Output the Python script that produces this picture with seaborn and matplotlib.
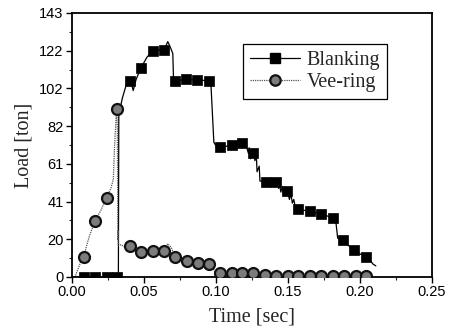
import seaborn as sns
import matplotlib.pyplot as plt
from matplotlib.lines import Line2D
from matplotlib.ticker import FixedLocator, MultipleLocator

# Blanking - traced curve
blank_t = [0.000, 0.0315, 0.0322, 0.0325, 0.035, 0.038, 0.040, 0.0415, 0.0425, 0.0445,
           0.0477, 0.052, 0.056, 0.060, 0.064, 0.0665, 0.068, 0.070, 0.0705, 0.0715,
           0.079, 0.087, 0.0955, 0.0965, 0.0985, 0.100, 0.103, 0.111, 0.118, 0.121,
           0.1225, 0.123, 0.124, 0.125, 0.126, 0.127, 0.128, 0.1285, 0.130, 0.1305,
           0.134, 0.142, 0.1435, 0.144, 0.145, 0.146, 0.147, 0.1485, 0.1495, 0.151,
           0.152, 0.153, 0.154, 0.155, 0.157, 0.165, 0.173, 0.181, 0.183, 0.1845,
           0.188, 0.192, 0.196, 0.200, 0.204, 0.207, 0.209, 0.211]
blank_load = [0, 0, 0, 88, 97, 105, 106, 104, 101, 107,
              113, 119, 122.6, 123, 123, 127.5, 125, 121, 107, 106.3,
              107, 106.7, 106.3, 104, 73, 71, 70.3, 71.3, 72.4, 71,
              67, 70, 64, 69, 67.3, 63, 66, 57, 60, 52,
              51.3, 51.3, 48, 51, 46, 49, 44, 47.5, 46.6, 42,
              45, 40, 42, 38, 36.7, 35.6, 34.1, 32.1, 31.5, 21,
              20, 17, 14.6, 12.5, 11, 9, 7, 6]

# Blanking - markers
blank_mt = [0.008, 0.016, 0.024, 0.031, 0.040, 0.048, 0.056, 0.064, 0.0715, 0.079,
            0.087, 0.095, 0.103, 0.111, 0.118, 0.126, 0.1345, 0.142, 0.1495, 0.157,
            0.165, 0.173, 0.181, 0.188, 0.196, 0.204]
blank_ml = [0, 0, 0, 0, 106, 113, 122.6, 123, 106.3, 107,
            106.7, 106.3, 70.3, 71.3, 72.4, 67.3, 51.3, 51.3, 46.6, 36.7,
            35.6, 34.1, 32.1, 20, 14.6, 11]

# Vee-ring - traced curve
vee_t = [0.000, 0.002, 0.004, 0.006, 0.008, 0.012, 0.016, 0.020, 0.024, 0.027,
         0.0287, 0.0295, 0.0305, 0.031, 0.0315, 0.0318, 0.032, 0.0322, 0.034, 0.037,
         0.040, 0.044, 0.048, 0.056, 0.064, 0.0665, 0.069, 0.0705, 0.0715, 0.0796,
         0.0873, 0.095, 0.097, 0.099, 0.103, 0.111, 0.118, 0.126, 0.134, 0.142,
         0.150, 0.165, 0.181, 0.197, 0.205]
vee_load = [0, 0, 4, 8, 11, 22, 30.5, 36, 43, 48,
            53, 70, 85, 91, 80, 20, 25, 17, 17.5, 16,
            17, 14.5, 13.7, 14.2, 14.2, 18, 16, 13, 10.7, 8.7,
            7.4, 7, 6, 3, 2.3, 2, 2.3, 2, 0.9, 0.6,
            0.5, 0.4, 0.4, 0.4, 0.3]

# Vee-ring - markers
vee_mt = [0.008, 0.016, 0.024, 0.031, 0.040, 0.048, 0.056, 0.064, 0.0715, 0.0796,
          0.0873, 0.095, 0.103, 0.111, 0.118, 0.126, 0.134, 0.142, 0.150, 0.157,
          0.165, 0.173, 0.181, 0.189, 0.197, 0.204]
vee_ml = [11, 30.5, 43, 91, 17, 13.7, 14.2, 14.2, 10.7, 8.7,
          7.4, 7, 2.3, 2, 2.3, 2, 0.9, 0.6, 0.5, 0.4,
          0.4, 0.4, 0.4, 0.4, 0.4, 0.4]

y_ticks = [0, 20.43, 40.86, 61.29, 81.71, 102.14, 122.57, 143]
y_labels = ['0', '20', '41', '61', '82', '102', '122', '143']

sns.set_style("ticks")
plt.rcParams['font.family'] = ['Liberation Sans', 'DejaVu Sans']

fig = plt.figure(figsize=(4.54, 3.33), dpi=100)
ax = fig.add_axes([0.1586, 0.1682, 0.7930, 0.7928])

sq_color = '#000000'
ci_face = '#7c7c7c'
ci_edge = '#111111'

sns.lineplot(x=blank_t, y=blank_load, ax=ax, color='black', linewidth=0.9,
             sort=False, estimator=None)
sns.lineplot(x=vee_t, y=vee_load, ax=ax, color='#555555', linewidth=0.9,
             linestyle=(0, (1, 0.8)), sort=False, estimator=None)
sns.scatterplot(x=blank_mt, y=blank_ml, ax=ax, marker='s', s=58, color=sq_color,
                edgecolor=sq_color, linewidth=0.5, zorder=3)
sns.scatterplot(x=vee_mt, y=vee_ml, ax=ax, marker='o', s=62, color=ci_face,
                edgecolor=ci_edge, linewidth=1.6, zorder=3)

ax.set_xlim(0, 0.25)
ax.set_ylim(0, 143)
ax.set_xticks([0, 0.05, 0.10, 0.15, 0.20, 0.25])
ax.set_xticklabels(['0.00', '0.05', '0.10', '0.15', '0.20', '0.25'])
ax.xaxis.set_minor_locator(MultipleLocator(0.025))
ax.set_yticks(y_ticks)
ax.set_yticklabels(y_labels)
ax.yaxis.set_minor_locator(FixedLocator([(y_ticks[i] + y_ticks[i + 1]) / 2 for i in range(7)]))

ax.tick_params(which='major', direction='out', length=4, width=1, labelsize=10.5,
               colors='black', pad=2)
ax.tick_params(which='minor', direction='out', length=2.5, width=0.8)
for sp in ax.spines.values():
    sp.set_visible(True)
    sp.set_linewidth(1.3)
    sp.set_color('black')

ax.set_xlabel('Time [sec]', family=['Liberation Serif'], fontsize=14.5, labelpad=6)
ax.set_ylabel('Load [ton]', family=['Liberation Serif'], fontsize=14.5, labelpad=4)

handles = [
    Line2D([], [], color='black', linewidth=0.9, marker='s', markersize=7.5,
           markerfacecolor=sq_color, markeredgecolor=sq_color),
    Line2D([], [], color='#555555', linewidth=0.9, linestyle=(0, (1, 0.8)), marker='o',
           markersize=7.5, markerfacecolor=ci_face, markeredgecolor=ci_edge, markeredgewidth=1.6),
]
leg = ax.legend(handles, ['Blanking', 'Vee-ring'], loc='upper left',
                bbox_to_anchor=(0.475, 0.883), borderaxespad=0, frameon=True,
                fancybox=False, edgecolor='black', framealpha=1,
                prop={'family': 'Liberation Serif', 'size': 14.5},
                handlelength=2.5, handletextpad=0.3, labelspacing=0.15,
                borderpad=0.35)
leg.get_frame().set_linewidth(0.9)

fig.savefig('out.png', dpi=100)
